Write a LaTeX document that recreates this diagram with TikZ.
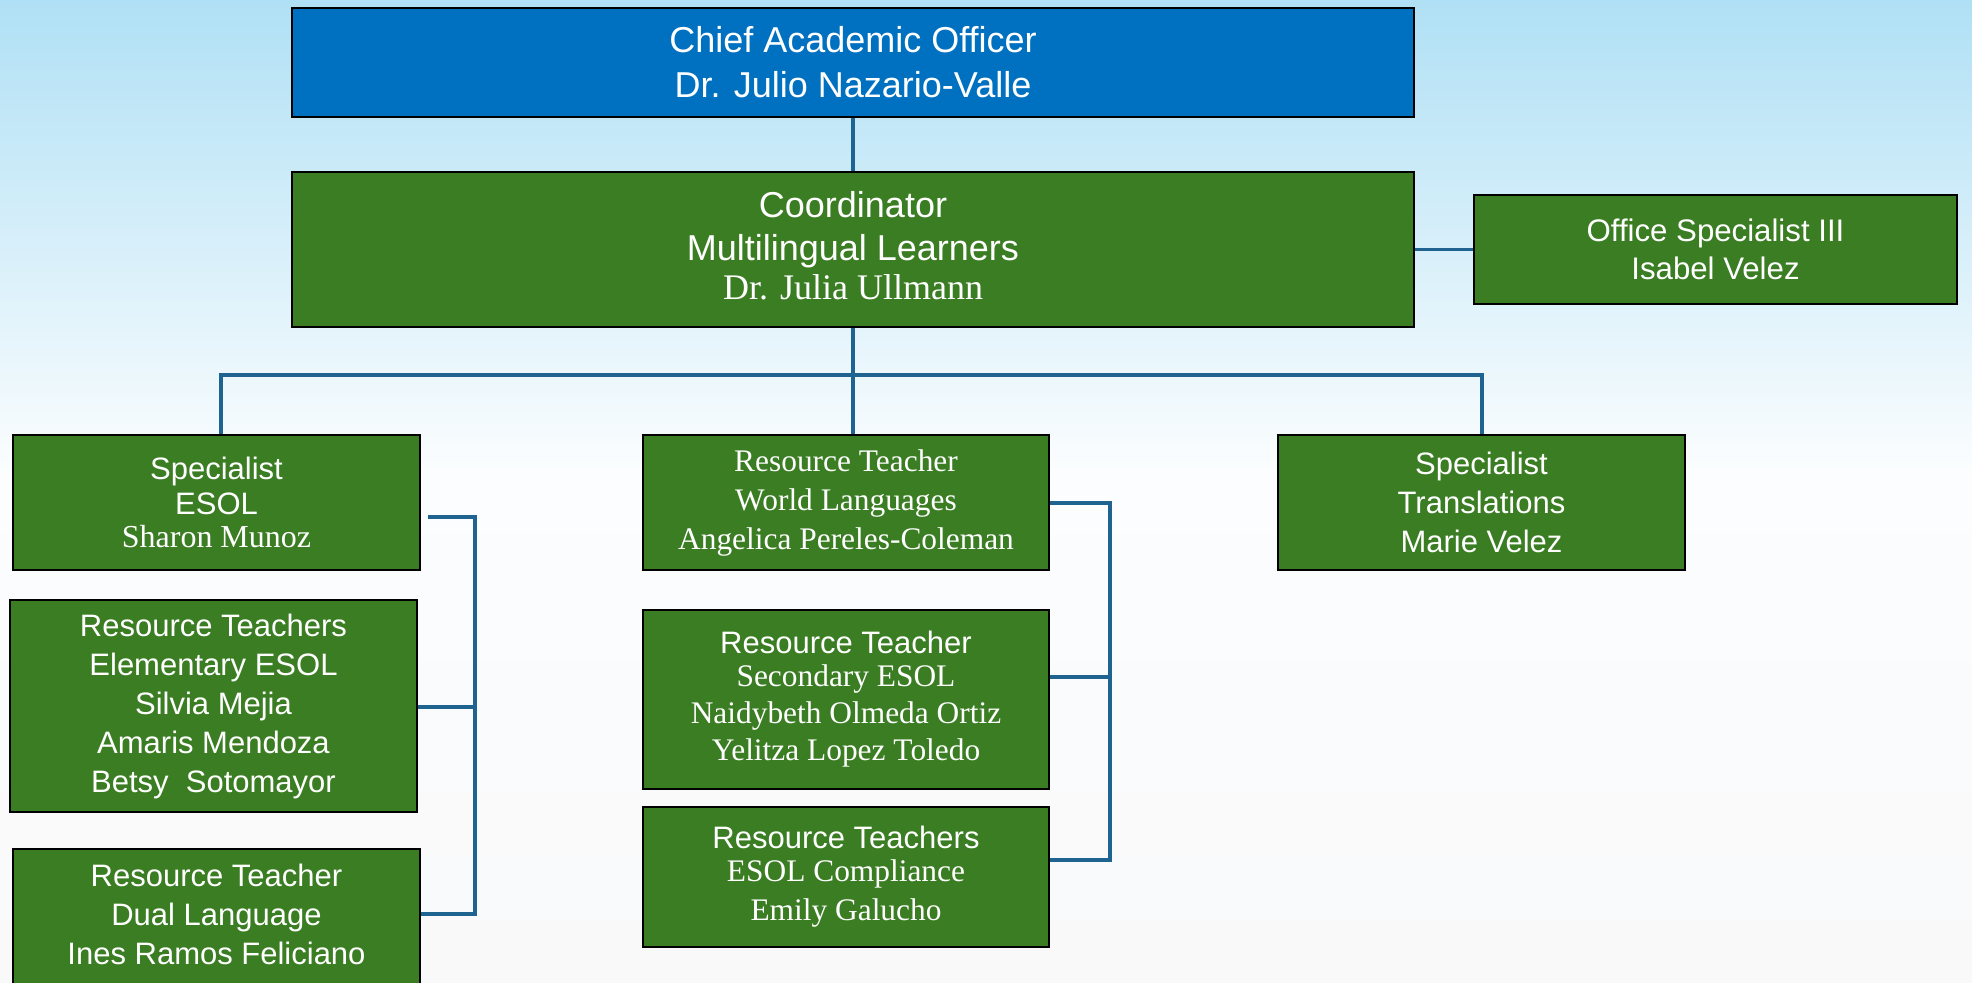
\documentclass[tikz,border=0pt]{standalone}
\usepackage{fontspec}
\setmainfont{Liberation Sans}
\newfontfamily\serifrm{Liberation Serif}
\definecolor{boxgreen}{HTML}{3A7D22}
\definecolor{boxblue}{HTML}{0070C0}
\definecolor{linkblue}{HTML}{1F6491}
\definecolor{bgtop}{HTML}{B0E0F5}
\definecolor{bgmid}{HTML}{DDF1FA}
\definecolor{bgwhite}{HTML}{FBFDFE}
\definecolor{bgbot}{HTML}{F9F9FA}
\tikzset{
  box/.style={draw=black, line width=1.3pt, fill=boxgreen, text=white, align=center, inner sep=0pt},
  bigtext/.style={font=\fontsize{18}{22.5}\selectfont},
  smalltext/.style={font=\fontsize{15.5}{19.5}\selectfont},
  link/.style={draw=linkblue, line width=1.6pt},
}
\newcommand{\srf}[1]{{\serifrm\fontsize{15.7}{18.5}\selectfont #1}}
\begin{document}
\begin{tikzpicture}[x=0.5pt,y=-0.5pt]
\useasboundingbox (0,0) rectangle (1972,983);
\clip (0,0) rectangle (1972,983);
\shade[top color=bgtop, middle color=bgmid, bottom color=bgwhite] (0,0) rectangle (1972,470);
\shade[top color=bgwhite, bottom color=bgbot] (0,469) rectangle (1972,983);

% top level
\node[box, fill=boxblue, bigtext, minimum width=561pt, minimum height=54.5pt] (cao) at (853,62.5)
  {Chief Academic Officer\\Dr. Julio Nazario-Valle};
\node[box, bigtext, minimum width=561pt, minimum height=77.5pt] (coord) at (853,249.5)
  {Coordinator\\[-1pt]Multilingual Learners\\[-3pt]{\serifrm Dr. Julia Ullmann}\\[-18.5pt]\mbox{}};
\node[box, font=\fontsize{15.6}{19}\selectfont, minimum width=241.5pt, minimum height=54.5pt] (office) at (1715.5,249.5)
  {Office Specialist III\\Isabel Velez};

% left column
\node[box, smalltext, minimum width=203.5pt, minimum height=67.5pt] (spesol) at (216.5,502.5)
  {Specialist\\[-2pt]ESOL\\[-3pt]{\serifrm\fontsize{16}{19}\selectfont Sharon Munoz}};
\node[box, smalltext, minimum width=203.5pt, minimum height=106pt] (rtelem) at (213.5,706)
  {Resource Teachers\\Elementary ESOL\\Silvia Mejia\\Amaris Mendoza\\Betsy\ \ Sotomayor};
\node[box, smalltext, minimum width=203.5pt, minimum height=70.5pt] (rtdual) at (216.5,919.5)
  {Resource Teacher\\Dual Language\\Ines Ramos Feliciano\\[-14pt]\mbox{}};

% middle column
\node[box, font=\serifrm\fontsize{15.7}{19.5}\selectfont, minimum width=203pt, minimum height=67.5pt] (rtworld) at (846,502.5)
  {Resource Teacher\\World Languages\\Angelica Pereles-Coleman};
\node[box, smalltext, minimum width=203pt, minimum height=89.5pt] (rtsec) at (846,699.5)
  {Resource Teacher\\[-3pt]\srf{Secondary ESOL}\\[-1pt]\srf{Naidybeth Olmeda Ortiz}\\[-1pt]\srf{Yelitza Lopez Toledo}};
\node[box, smalltext, minimum width=203pt, minimum height=70pt] (rtcomp) at (846,877)
  {Resource Teachers\\[-3pt]\srf{ESOL Compliance}\\\srf{Emily Galucho}};

% right column
\node[box, smalltext, minimum width=203.5pt, minimum height=67.5pt] (sptrans) at (1481.5,502.5)
  {Specialist\\Translations\\Marie Velez};

% connectors
\coordinate (busL) at (221,375);
\coordinate (busR) at (1482,375);
\draw[link] (cao.south) -- (coord.north);
\draw[link] (coord.east) -- (office.west);
\draw[link] (coord.south) -- (coord.south |- rtworld.north);
\draw[link] (busL |- spesol.north) -- (busL) -- (busR) -- (busR |- sptrans.north);

% left bracket
\coordinate (l1) at (428,517);
\coordinate (l2) at (475,517);
\coordinate (l3) at (475,707);
\coordinate (l4) at (475,914);
\draw[link] (l1) -- (l2) -- (l4) -- (rtdual.east |- l4);
\draw[link] (rtelem.east |- l3) -- (l3);

% middle bracket
\coordinate (m1) at (1110,503);
\coordinate (m2) at (1110,677);
\coordinate (m3) at (1110,860);
\draw[link] (rtworld.east |- m1) -- (m1) -- (m3) -- (rtcomp.east |- m3);
\draw[link] (rtsec.east |- m2) -- (m2);
\end{tikzpicture}
\end{document}
